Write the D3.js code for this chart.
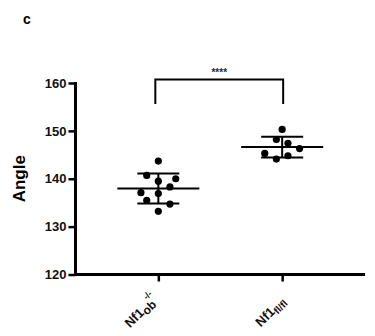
<!DOCTYPE html>
<html>
<head>
<meta charset="utf-8">
<script src="https://cdn.jsdelivr.net/npm/d3@7"></script>
<style>
  html, body { margin: 0; padding: 0; background: #fff; }
  svg { display: block; font-family: Arial, "Liberation Sans", sans-serif; }
</style>
</head>
<body>
<svg id="chart" width="375" height="336"></svg>
<script>
// Groups and measured angles
const groups = ["ob", "flfl"];
const obAngles = [143.7, 140.7, 139.5, 140.0, 138.3, 137.1, 136.9, 135.5, 134.7, 133.2];
const flAngles = [150.3, 148.2, 147.4, 146.3, 145.3, 144.1, 144.8];
// Scatter column of each point (GraphPad-style side-by-side placement)
const obColumns = [0, -2, 0, 3, 2, -3, 0, -2, 2, 0];
const flColumns = [0, -1, 1, 3, -3, -1, 1];
const yTicks = [120, 130, 140, 150, 160];
const significance = "****";
const panelLetter = "c";
const yTitle = "Angle";

const svg = d3.select("#chart");

const y = d3.scaleLinear().domain([120, 160]).range([274.5, 83]);
const x = d3.scalePoint().domain(groups).range([75.5, 365]).padding(0.669);
const colStep = 5.8;

const seriesList = [
  { key: "ob", values: obAngles, cols: obColumns },
  { key: "flfl", values: flAngles, cols: flColumns }
];

// Panel letter
svg.append("text")
  .attr("x", 23).attr("y", 24)
  .attr("font-size", 14).attr("font-weight", "bold")
  .text(panelLetter);

// Y axis
const yAxis = svg.append("g")
  .attr("transform", "translate(75.5,0)")
  .call(d3.axisLeft(y).tickValues(yTicks).tickSize(7).tickPadding(2));
yAxis.select(".domain").attr("stroke", "#000").attr("stroke-width", 3)
  .attr("d", `M0,${y(160) - 1}V${y(120) + 1.5}`);
yAxis.selectAll(".tick line").attr("stroke", "#000").attr("stroke-width", 2.5);
yAxis.selectAll(".tick text")
  .attr("font-size", 13).attr("font-weight", "bold")
  .attr("font-family", "Arial, 'Liberation Sans', sans-serif")
  .attr("fill", "#111");

// X axis
const xAxis = svg.append("g")
  .attr("transform", `translate(0,${y(120)})`)
  .call(d3.axisBottom(x).tickSize(7).tickFormat(""));
xAxis.select(".domain").attr("stroke", "#000").attr("stroke-width", 3)
  .attr("d", `M74,0H365`);
xAxis.selectAll(".tick line").attr("stroke", "#000").attr("stroke-width", 2.5);

// X tick labels with sub/superscripts
function groupLabel(sel, key) {
  sel.append("tspan").text("Nf1");
  if (key === "ob") {
    sel.append("tspan").attr("dy", 3).attr("font-size", 12).text("ob");
    sel.append("tspan").attr("dy", -11).attr("dx", -4).attr("font-size", 9).text("-/-");
  } else {
    sel.append("tspan").attr("dy", 3).attr("font-size", 10).text("fl/fl");
  }
}
groups.forEach(g => {
  const tx = x(g) + (g === "ob" ? 0 : 4), ty = g === "ob" ? 300 : 302;
  const t = svg.append("text")
    .attr("transform", `translate(${tx},${ty}) rotate(-45)`)
    .attr("text-anchor", "end")
    .attr("font-size", 13).attr("font-weight", "bold")
    .attr("fill", "#111");
  groupLabel(t, g);
});

// Y axis title
svg.append("text")
  .attr("transform", `translate(25,${(y(120) + y(160)) / 2}) rotate(-90)`)
  .attr("text-anchor", "middle")
  .attr("font-size", 17).attr("font-weight", "bold")
  .text(yTitle);

// Mean and SD bars, then points
seriesList.forEach(s => {
  const cx = x(s.key);
  const m = d3.mean(s.values);
  const sd = d3.deviation(s.values);
  const g = svg.append("g");
  g.append("line")
    .attr("x1", cx).attr("x2", cx)
    .attr("y1", y(m + sd)).attr("y2", y(m - sd))
    .attr("stroke", "#000").attr("stroke-width", 2);
  [m + sd, m - sd].forEach(v => {
    g.append("line")
      .attr("x1", cx - 21).attr("x2", cx + 21)
      .attr("y1", y(v)).attr("y2", y(v))
      .attr("stroke", "#000").attr("stroke-width", 2);
  });
  g.append("line")
    .attr("x1", cx - 41).attr("x2", cx + 41)
    .attr("y1", y(m)).attr("y2", y(m))
    .attr("stroke", "#000").attr("stroke-width", 2.2);
  g.selectAll("circle")
    .data(s.values)
    .join("circle")
    .attr("cx", (d, i) => cx + s.cols[i] * colStep)
    .attr("cy", d => y(d))
    .attr("r", 3.6)
    .attr("fill", "#000");
});

// Significance bracket
const bracketTop = 79.5, bracketBottom = 104;
svg.append("path")
  .attr("d", `M${x("ob") - 3},${bracketBottom}V${bracketTop}H${x("flfl") + 1}V${bracketBottom}`)
  .attr("fill", "none").attr("stroke", "#000").attr("stroke-width", 2);
svg.append("text")
  .attr("x", (x("ob") + x("flfl")) / 2 - 1).attr("y", 76)
  .attr("text-anchor", "middle")
  .attr("font-size", 10).attr("font-weight", "bold")
  .attr("fill", "#1a2a4a")
  .text(significance);
</script>
</body>
</html>
